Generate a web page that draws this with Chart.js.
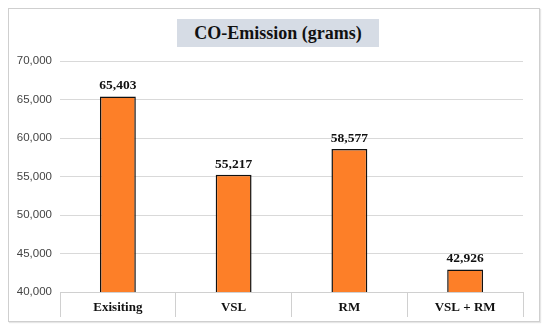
<!DOCTYPE html>
<html>
<head>
<meta charset="utf-8">
<script src="https://cdn.jsdelivr.net/npm/chart.js@4/dist/chart.umd.min.js"></script>
<style>
  body { margin: 0; background: #fff; }
  #wrap { position: relative; width: 550px; height: 332px; }
  #frame { position: absolute; left: 8px; top: 8px; width: 530px; height: 312px; border: 1px solid #cfcfcf; box-shadow: 1px 1px 1px #e6e6e6; }
  #title { position: absolute; left: 177px; top: 19px; width: 202px; height: 28px; background: #d6dce5;
           font: bold 18px "Liberation Serif", "Times New Roman", serif; color: #111; text-align: center; line-height: 28px; }
  canvas { position: absolute; left: 0; top: 0; }
</style>
</head>
<body>
<div id="wrap">
  <div id="frame"></div>
  <canvas id="mycanvas" width="550" height="332"></canvas>
  <div id="title">CO-Emission (grams)</div>
</div>
<script>
// chart values
const categories = ["Exisiting", "VSL", "RM", "VSL + RM"];
const emissions = [65403, 55217, 58577, 42926];
const yMin = 40000, yMax = 70000, yStep = 5000;

// value labels over each bar
const valueLabels = {
  id: 'valueLabels',
  afterDatasetsDraw(chart) {
    const ctx = chart.ctx;
    const meta = chart.getDatasetMeta(0);
    ctx.save();
    ctx.font = 'bold 13.5px "Liberation Serif", serif';
    ctx.fillStyle = '#111';
    ctx.textAlign = 'center';
    ctx.textBaseline = 'bottom';
    meta.data.forEach(function(bar, i) {
      ctx.fillText(emissions[i].toLocaleString('en-US'), bar.x, bar.y - 4);
    });
    ctx.restore();
  }
};

var ctx = document.getElementById('mycanvas').getContext('2d');

new Chart(ctx, {
  type: 'bar',
  data: {
    labels: categories,
    datasets: [{
      label: 'CO-Emission (grams)',
      data: emissions,
      backgroundColor: '#fd7f28',
      borderColor: '#111',
      borderWidth: 1.5,
      categoryPercentage: 1,
      barPercentage: 0.31
    }]
  },
  options: {
    responsive: false,
    animation: false,
    layout: { padding: { left: 8, right: 27, top: 61, bottom: 0 } },
    plugins: {
      legend: { display: false },
      title: { display: false },
      tooltip: { enabled: false }
    },
    scales: {
      x: {
        afterFit: function(scale) { scale.height = 40; },
        border: { color: '#d0d0d0' },
        grid: { drawOnChartArea: false, drawTicks: true, tickLength: 25, color: '#d0d0d0', offset: true },
        ticks: {
          padding: -17,
          color: '#111',
          font: { family: '"Liberation Serif", serif', size: 13, weight: 'bold' }
        }
      },
      y: {
        min: yMin,
        max: yMax,
        afterFit: function(scale) { scale.width = 52; },
        border: { display: false },
        grid: { color: '#d9d9d9', drawTicks: false },
        ticks: {
          stepSize: yStep,
          padding: 8,
          color: '#444',
          font: { family: '"Liberation Sans", Arial, sans-serif', size: 11.5 },
          callback: function(v) { return v.toLocaleString('en-US'); }
        }
      }
    }
  },
  plugins: [valueLabels]
});
</script>
</body>
</html>
